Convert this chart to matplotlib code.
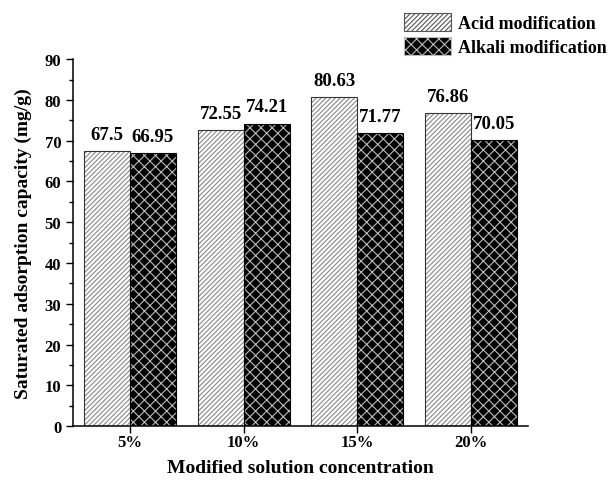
import numpy as np
import matplotlib.pyplot as plt
from matplotlib.patches import Patch
from matplotlib.ticker import MultipleLocator

plt.rcParams['font.family'] = ['Liberation Serif', 'Noto Sans CJK SC']
plt.rcParams['font.weight'] = 'bold'
plt.rcParams['hatch.linewidth'] = 0.8

# data
concentrations = ['5%', '10%', '15%', '20%']
acid = [67.5, 72.55, 80.63, 76.86]
alkali = [66.95, 74.21, 71.77, 70.05]
acid_labels = ['67.5', '72.55', '80.63', '76.86']
alkali_labels = ['66.95', '74.21', '71.77', '70.05']

x = np.arange(len(concentrations))
w = 0.405

fig = plt.figure(figsize=(6.09, 4.81), dpi=100)
ax = fig.add_axes([0.120, 0.112, 0.747, 0.763])

# acid: white with grey diagonal hatch
ax.bar(x - w / 2, acid, w, color='white', edgecolor='#888888', hatch='///////', linewidth=0)
ax.bar(x - w / 2, acid, w, fill=False, edgecolor='#333333', linewidth=0.8)
# alkali: black with light cross hatch
ax.bar(x + w / 2, alkali, w, color='black', edgecolor='#bbbbbb', hatch='xxx', linewidth=0)
ax.bar(x + w / 2, alkali, w, fill=False, edgecolor='black', linewidth=0.8)

for xi, v, s in zip(x - w / 2, acid, acid_labels):
    ax.text(xi, v + 2, s, ha='center', va='bottom', fontsize=13.5, fontweight='bold')
for xi, v, s in zip(x + w / 2, alkali, alkali_labels):
    ax.text(xi, v + 2, s, ha='center', va='bottom', fontsize=13.5, fontweight='bold')

ax.set_xlim(-0.5, 3.5)
ax.set_ylim(0, 90)
ax.set_xticks(x)
ax.set_xticklabels(concentrations)
ax.yaxis.set_major_locator(MultipleLocator(10))
ax.yaxis.set_minor_locator(MultipleLocator(5))
ax.tick_params(axis='both', labelsize=12, direction='out', length=5, width=1)
ax.tick_params(axis='y', which='minor', length=3, width=1)
ax.tick_params(axis='x', pad=1)
ax.spines['top'].set_visible(False)
ax.spines['right'].set_visible(False)
ax.spines['left'].set_linewidth(1.1)
ax.spines['bottom'].set_linewidth(1.1)

ax.set_xlabel('Modified solution concentration', fontsize=14, fontweight='bold', labelpad=6)
ax.set_ylabel('Saturated adsorption capacity (mg/g)', fontsize=14, fontweight='bold', labelpad=9)

handles = [
    Patch(facecolor='white', edgecolor='#555555', hatch='///////', linewidth=0.8),
    Patch(facecolor='black', edgecolor='#bbbbbb', hatch='xxx', linewidth=0.8),
]
fig.legend(handles, ['Acid modification', 'Alkali modification'], loc='upper left',
           bbox_to_anchor=(0.636, 1.005), frameon=False, fontsize=13,
           handlelength=2.6, handleheight=1.2, handletextpad=0.4, labelspacing=0.25)

fig.savefig('out.png', dpi=100)
